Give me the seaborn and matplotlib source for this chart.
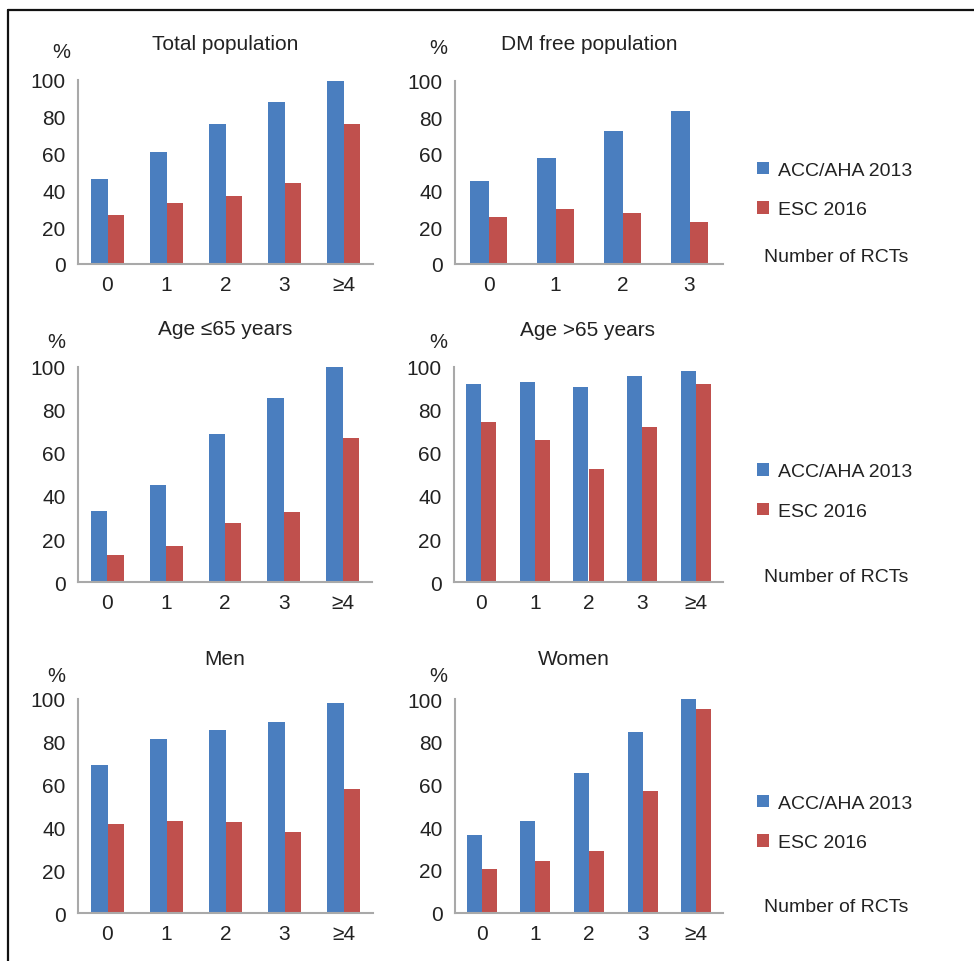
import matplotlib
matplotlib.use("Agg")
import matplotlib.pyplot as plt
import seaborn as sns
import pandas as pd
from matplotlib.patches import Patch
from matplotlib.lines import Line2D

# ---- data ----
cats5 = ["0", "1", "2", "3", "≥4"]
cats4 = ["0", "1", "2", "3"]
series = ["ACC/AHA 2013", "ESC 2016"]

total_acc = [46, 61, 76, 88, 99.5]
total_esc = [26.5, 33, 37, 44, 76]
dmfree_acc = [45, 57.5, 72.5, 83.5]
dmfree_esc = [25.5, 30, 28, 23]
young_acc = [33, 45, 68.5, 85.5, 100]
young_esc = [12.5, 17, 27.5, 32.5, 67]
old_acc = [92, 93, 90.5, 95.5, 98]
old_esc = [74.5, 66, 52.5, 72, 92]
men_acc = [69, 81.5, 85.5, 89.5, 98]
men_esc = [41.5, 43, 42.5, 38, 58]
women_acc = [36.5, 43, 65.5, 84.5, 100]
women_esc = [20.5, 24, 29, 57, 95.5]

titles = ["Total population", "DM free population", "Age ≤65 years",
          "Age >65 years", "Men", "Women"]
panels = [(cats5, total_acc, total_esc), (cats4, dmfree_acc, dmfree_esc),
          (cats5, young_acc, young_esc), (cats5, old_acc, old_esc),
          (cats5, men_acc, men_esc), (cats5, women_acc, women_esc)]

BLUE = "#4A7EBF"
RED = "#C0504D"
TXT = "#222222"
GRID = "#A9A9A9"

sns.set_style("white")
plt.rcParams["font.family"] = ["Liberation Sans", "DejaVu Sans"]

W, H = 974, 962
fig = plt.figure(figsize=(W / 100, H / 100), dpi=100)

def fx(px):
    return px / W

def fy(py):
    return 1 - py / H

# axes pixel boxes: (left, right, top(100), bottom(0))
boxes = [(78, 373, 81, 265), (455, 723, 81.5, 265),
         (78, 372, 367.5, 583.3), (454, 723, 367.5, 583.3),
         (78, 373, 700, 914.3), (455, 723, 700, 913.5)]
title_pos = [(225, 44), (589, 44), (225, 330), (587, 331), (224.5, 659.5), (574, 659.5)]
pct_pos = [(61, 53), (438, 48), (56, 343), (438, 342), (56, 676), (438, 676)]

fs_tick = 15
fs_title = 15
fs_leg = 14
for i, ((cats, acc, esc), box) in enumerate(zip(panels, boxes)):
    l, r, t, b = box
    ax = fig.add_axes([fx(l), fy(b), fx(r - l), (b - t) / H])
    df = pd.DataFrame({
        "cat": cats * 2,
        "val": acc + esc,
        "series": [series[0]] * len(cats) + [series[1]] * len(cats),
    })
    sns.barplot(data=df, x="cat", y="val", hue="series", order=cats,
                hue_order=series, palette=[BLUE, RED], width=0.56,
                linewidth=0, saturation=1, ax=ax, legend=False)
    ax.set_ylim(0, 100)
    ax.set_xlim(-0.5, len(cats) - 0.5)
    ax.set_yticks([0, 20, 40, 60, 80, 100])
    ax.set_xlabel("")
    ax.set_ylabel("")
    for s in ["top", "right"]:
        ax.spines[s].set_visible(False)
    for s in ["left", "bottom"]:
        ax.spines[s].set_color(GRID)
        ax.spines[s].set_linewidth(1.5)
    ax.tick_params(axis="both", length=0, labelsize=fs_tick, colors=TXT)
    ax.tick_params(axis="y", pad=9)
    ax.tick_params(axis="x", pad=8)
    ax.grid(False)
    ax.patch.set_alpha(0)
    fig.text(fx(title_pos[i][0]), fy(title_pos[i][1]), titles[i], ha="center",
             va="center", fontsize=fs_title, color=TXT)
    fig.text(fx(pct_pos[i][0]), fy(pct_pos[i][1]), "%", ha="center",
             va="center", fontsize=14.5, color=TXT)

# legends per row
legend_centers = [191, 492.5, 824]
rct_y = [257, 577, 908]
handles = [Patch(facecolor=BLUE, edgecolor="none"), Patch(facecolor=RED, edgecolor="none")]
for yc, yr in zip(legend_centers, rct_y):
    fig.legend(handles, series, loc="center left",
               bbox_to_anchor=(fx(757), fy(yc)), bbox_transform=fig.transFigure,
               frameon=False, fontsize=fs_leg, borderpad=0, borderaxespad=0,
               handlelength=0.62, handleheight=0.62, handletextpad=0.45,
               labelspacing=1.15, labelcolor=TXT)
    fig.text(fx(764), fy(yr), "Number of RCTs", ha="left", va="center",
             fontsize=fs_leg, color=TXT)

# partial frame: top and left lines
fig.add_artist(Line2D([fx(8), 1.0], [fy(11), fy(11)], color="#111111",
                      linewidth=1.6, transform=fig.transFigure))
fig.add_artist(Line2D([fx(8), fx(8)], [fy(11), 0.0], color="#111111",
                      linewidth=1.6, transform=fig.transFigure))

fig.savefig("out.png", dpi=100)
